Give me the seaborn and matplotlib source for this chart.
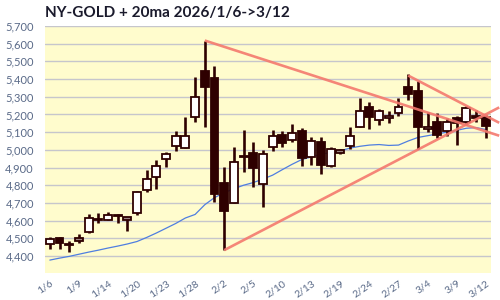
import matplotlib
matplotlib.use("Agg")
import matplotlib.pyplot as plt
import seaborn as sns
import numpy as np
import pandas as pd

dates = ["1/6","1/7","1/8","1/9","1/12","1/13","1/14","1/15","1/16","1/20",
         "1/21","1/22","1/23","1/26","1/27","1/28","1/29","1/30","2/2","2/3",
         "2/4","2/5","2/6","2/9","2/10","2/11","2/12","2/13","2/17","2/18",
         "2/19","2/20","2/23","2/24","2/25","2/26","2/27","3/2","3/3","3/4",
         "3/5","3/6","3/9","3/10","3/11","3/12"]
opens  = [4467,4501,4467,4486,4535,4608,4603,4634,4619,4644,
          4771,4845,4947,5022,5009,5184,5446,5404,4813,4701,
          4968,4983,4808,5014,5082,5057,5104,4961,5046,4910,
          4984,5023,5132,5242,5170,5180,5208,5357,5332,5118,
          5155,5106,5180,5155,5189,5185]
highs  = [4506,4506,4484,4523,4636,4644,4650,4636,4620,4766,
          4886,4943,4988,5106,5186,5410,5617,5472,4905,5017,
          5115,5042,4997,5110,5106,5144,5121,5070,5070,5014,
          5004,5129,5291,5268,5230,5217,5293,5430,5389,5213,
          5208,5180,5193,5246,5223,5197]
lows   = [4442,4439,4420,4471,4529,4584,4601,4589,4544,4631,
          4764,4777,4905,4992,5009,5159,5131,4707,4434,4701,
          4874,4789,4678,4995,5016,5044,4908,4914,4863,4905,
          4976,5004,5129,5117,5140,5151,5193,5283,5006,5099,
          5067,5076,5027,5142,5159,5065]
closes = [4495,4471,4460,4501,4614,4602,4630,4628,4603,4761,
          4833,4909,4975,5076,5076,5297,5357,4750,4656,4933,
          4960,4899,4978,5080,5040,5097,4953,5048,4914,5004,
          5000,5076,5219,5185,5219,5191,5244,5314,5127,5128,
          5083,5155,5152,5236,5182,5136]
ma20   = [4377,4388,4398,4410,4422,4433,4445,4456,4468,4482,
          4505,4530,4557,4584,4615,4635,4690,4730,4758,4780,
          4800,4815,4835,4857,4888,4918,4945,4960,4975,4985,
          4995,5010,5020,5027,5030,5025,5027,5050,5070,5080,
          5090,5100,5110,5122,5126,5115]
gray_days = ["1/9", "1/16", "2/19"]

trend_down_long_x = [16, 46.4]
trend_down_long_y = [5618, 5080]
trend_up_x = [18, 46.4]
trend_up_y = [4433, 5240]
trend_down_short_x = [37, 46.4]
trend_down_short_y = [5420, 5153]

tick_labels = dates[::3]
y_ticks = list(range(4400, 5701, 100))

sns.set_theme(style="white")
plt.rcParams['font.family'] = ['Lato', 'DejaVu Sans']

df = pd.DataFrame({"i": np.arange(len(dates)), "date": dates, "open": opens,
                   "high": highs, "low": lows, "close": closes, "ma": ma20})

fig = plt.figure(figsize=(5, 3), dpi=100)
ax = fig.add_axes([0.09, 0.09, 0.891, 0.8233])
ax.set_facecolor("#fffccd")

dark = "#2e0000"
for y in y_ticks:
    ax.axhline(y, color="#c6c6cc", lw=1.0, zorder=0)

sns.lineplot(data=df, x="i", y="ma", ax=ax, color="#4f7ee0", lw=0.9, zorder=1)

# wicks
ax.vlines(df["i"], df["low"], df["high"], color=dark, lw=1.9, zorder=2)
# bodies
for _, r in df.iterrows():
    lo = min(r["open"], r["close"])
    hi = max(r["open"], r["close"])
    h = max(hi - lo, 4)
    if r["date"] in gray_days:
        fc = "#9c8484"
    elif r["close"] >= r["open"]:
        fc = "white"
    else:
        fc = dark
    ax.bar(r["i"], h, bottom=lo, width=0.82, color=fc, edgecolor=dark,
           linewidth=1.3, zorder=3)

tc = "#f4796e"
for xs, ys in [(trend_down_long_x, trend_down_long_y), (trend_up_x, trend_up_y),
               (trend_down_short_x, trend_down_short_y)]:
    ax.plot(xs, ys, color=tc, lw=1.9, alpha=0.9, zorder=5, clip_on=False,
            solid_capstyle="butt")

ax.set_xlim(-0.5, 45.5)
ax.set_ylim(4304, 5700)
for s in ax.spines.values():
    s.set_visible(False)

lab_color = "#5a6a88"
ax.set_xticks(range(0, len(dates), 3))
ax.set_xticklabels(tick_labels, rotation=35, ha="right", rotation_mode="anchor",
                   fontsize=7.5, color=lab_color)
ax.set_yticks(y_ticks)
ax.set_yticklabels([f"{v:,}" for v in y_ticks], fontsize=8, color=lab_color)
ax.tick_params(axis="x", length=0, pad=4)
ax.tick_params(axis="y", length=0, pad=8)
ax.set_xlabel("")
ax.set_ylabel("")

fig.text(0.09, 0.942, "NY-GOLD + 20ma 2026/1/6->3/12", fontsize=11,
         fontweight="bold", color="#1a1a2c", va="baseline", ha="left")

fig.savefig("out.png", dpi=100)
